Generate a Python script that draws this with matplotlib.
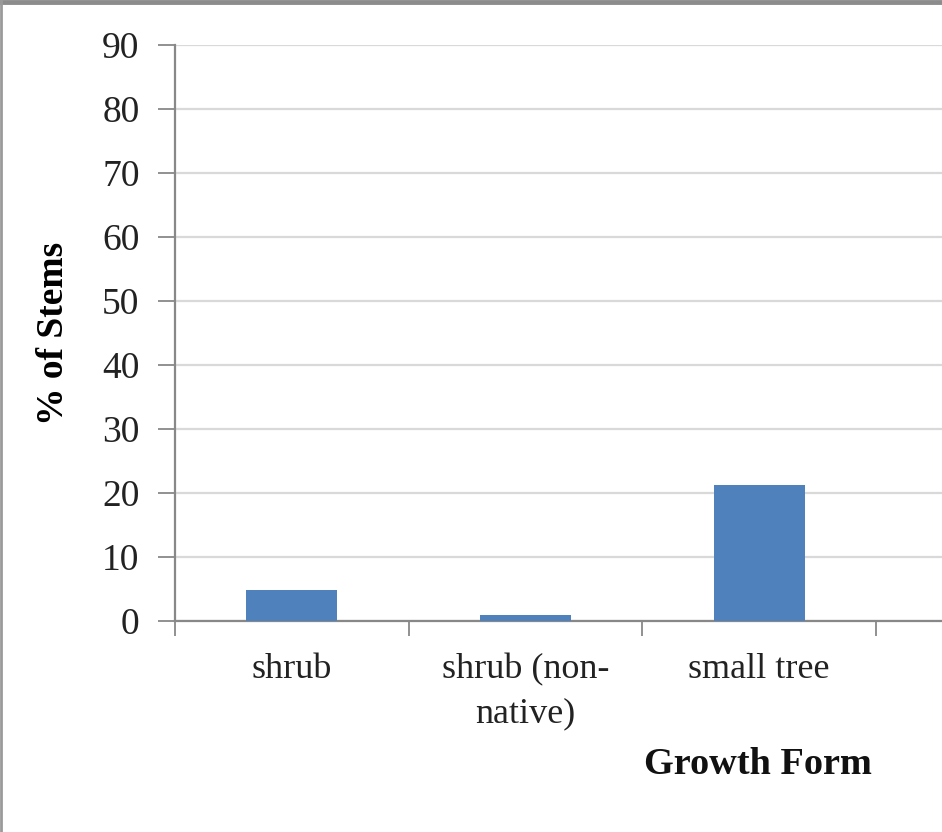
import matplotlib.pyplot as plt
from matplotlib.lines import Line2D

categories = ['shrub', 'shrub (non-\nnative)', 'small tree']
stems_pct = [4.8, 0.9, 21.2]
yticks = [0, 10, 20, 30, 40, 50, 60, 70, 80, 90]

plt.rcParams['font.family'] = ['Liberation Serif', 'DejaVu Serif']

fig = plt.figure(figsize=(9.42, 8.32), dpi=100)
W, H = 942, 832
# plot area runs off the right edge, like the cropped original
ax = fig.add_axes([175 / W, (H - 621) / H, 1 - 175 / W, (621 - 45) / H])

x = range(len(categories))
ax.bar(x, stems_pct, width=0.39, color='#4F81BD', zorder=3)

ax.set_xlim(-0.5, 2.5 + (942 - 876) / 233.5)
ax.set_ylim(0, 90)
ax.set_yticks(yticks)
ax.set_xticks([-0.5, 0.5, 1.5, 2.5], minor=False)
ax.set_xticklabels([])
ax.set_xticks(list(x), minor=True)
ax.set_xticklabels(categories, minor=True, fontsize=26, linespacing=1.45)
ax.tick_params(axis='x', which='minor', length=0, pad=23)
ax.tick_params(axis='x', which='major', direction='out', length=11, width=1.3, color='#888888')
ax.tick_params(axis='y', direction='out', length=12, width=1.3, color='#888888',
               labelsize=27, pad=13.5)
for lbl in ax.get_xticklabels(minor=True):
    lbl.set_color('#222222')
for lbl in ax.get_yticklabels():
    lbl.set_color('#222222')

ax.grid(axis='y', color='#D9D9D9', linewidth=1.6, zorder=0)
for side in ['top', 'right']:
    ax.spines[side].set_visible(False)
for side in ['left', 'bottom']:
    ax.spines[side].set_color('#888888')
    ax.spines[side].set_linewidth(1.6)

ax.set_ylabel('% of Stems', fontsize=27, fontweight='bold', labelpad=22.5)
fig.text(758 / W, 1 - 765 / H, 'Growth Form', fontsize=27.5, fontweight='bold',
         ha='center', va='center', color='#111111')

# frame of the original chart object (top and left edges visible)
fig.add_artist(Line2D([0, 1], [1 - 2 / H, 1 - 2 / H], transform=fig.transFigure,
                      color='#8C8C8C', linewidth=3.5))
fig.add_artist(Line2D([1 / W, 1 / W], [0, 1], transform=fig.transFigure,
                      color='#9A9A9A', linewidth=2))

fig.savefig('out.png', dpi=100, facecolor='white')
